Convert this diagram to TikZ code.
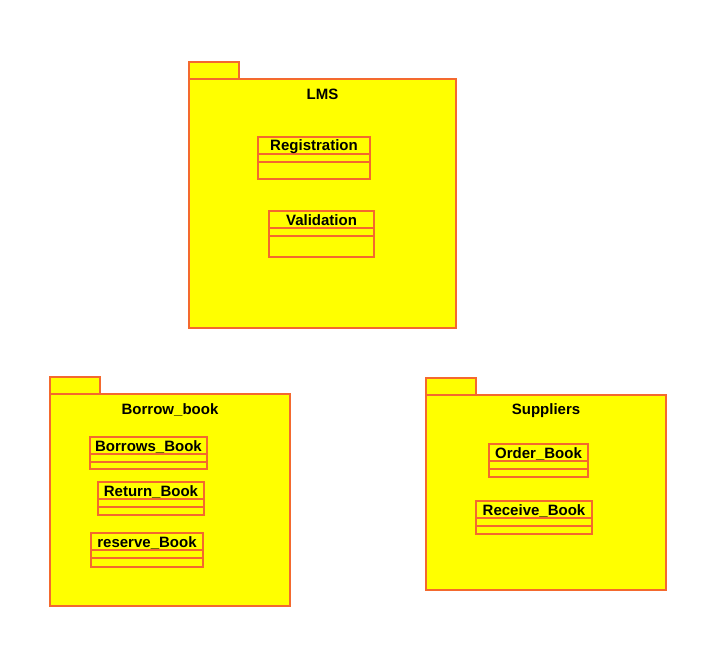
\documentclass[tikz,border=0pt]{standalone}
\usepackage{fontspec}
\setmainfont{Liberation Sans}
\usepackage{xcolor}
\usetikzlibrary{positioning}

\definecolor{pkgfill}{HTML}{FFFF00}
\definecolor{pkgline}{HTML}{F4692E}

\tikzset{
  pkgline/.style={draw=pkgline, line width=1.2pt, fill=pkgfill},
  sepline/.style={draw=pkgline, line width=1.2pt},
  pkgtitle/.style={font=\fontsize{15}{18}\selectfont\bfseries, inner sep=0pt},
  classtitle/.style={font=\fontsize{15}{18}\selectfont\bfseries, inner sep=0pt}
}

\begin{document}
\begin{tikzpicture}[x=1pt, y=-1pt]
  \useasboundingbox (0,0) rectangle (714,660);
  % packages: tab and body
  \foreach \xa/\ya/\xb/\yb/\nm/\txt/\ty in {
      189/79/456/328/lms/LMS/94,
      50/394/290/606/borrow/Borrow\_book/410,
      426/395/666/590/supp/Suppliers/411} {
    \draw[pkgline] (\xa,\ya-17) rectangle (\xa+50,\ya);
    \draw[pkgline] (\xa,\ya) rectangle (\xb,\yb);
    \node[pkgtitle] (\nm) at ({(\xa+\xb)/2},\ty) {\txt};
  }
  % classes: name box and two compartments
  \foreach \xa/\ya/\xb/\yb/\nm/\txt in {
      258/137/370/179/reg/Registration,
      269/211/374/257/valid/Validation,
      90/437/207/469/borrows/Borrows\_Book,
      98/482/204/515/return/Return\_Book,
      91/533/203/567/reserve/reserve\_Book,
      489/444/588/477/order/Order\_Book,
      476/501/592/534/receive/Receive\_Book} {
    \draw[pkgline] (\xa,\ya) rectangle (\xb,\yb);
    \draw[sepline] (\xa,\ya+17) -- (\xb,\ya+17);
    \draw[sepline] (\xa,\ya+25) -- (\xb,\ya+25);
    \node[classtitle] (\nm) at ({(\xa+\xb)/2},\ya+9.5) {\txt};
  }
\end{tikzpicture}
\end{document}
